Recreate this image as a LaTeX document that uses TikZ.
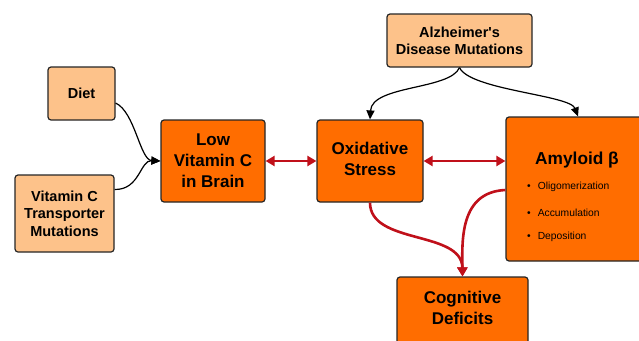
\documentclass[tikz,border=0pt]{standalone}
\usepackage{fontspec}
\setmainfont{Liberation Sans}
\usetikzlibrary{arrows.meta}
\definecolor{lightor}{HTML}{FDC28A}
\definecolor{darkor}{HTML}{FF6D00}
\definecolor{arrred}{HTML}{C0101A}
\begin{document}
\begin{tikzpicture}[x=1pt,y=-1pt,
  box/.style={draw=black!85, line width=1.2pt, rounded corners=3pt, inner sep=0pt, align=center, font=\bfseries},
  light/.style={box, fill=lightor},
  dark/.style={box, fill=darkor},
  blk/.style={-{Triangle[length=9pt,width=8pt]}, line width=1.2pt, black},
  redarr/.style={{Triangle[length=9pt,width=10pt]}-{Triangle[length=9pt,width=10pt]}, line width=2.6pt, arrred},
  redone/.style={-{Triangle[length=9pt,width=10pt]}, line width=2.6pt, arrred},
  bul/.style={font=\fontsize{10.3}{12}\selectfont, anchor=west, inner sep=0pt}]
\clip (0,0) rectangle (639,340);
\fill[white] (0,0) rectangle (639,340);
% boxes
\node[light, minimum width=67pt, minimum height=53pt, font=\bfseries\fontsize{14.5}{17}\selectfont] (diet) at (81.5,93.5) {Diet};
\node[light, minimum width=99pt, minimum height=77pt, font=\bfseries\fontsize{14.5}{17.5}\selectfont] (vct) at (64.5,213.5) {Vitamin C\\Transporter\\Mutations};
\node[dark, minimum width=104pt, minimum height=82pt, font=\bfseries\fontsize{17}{21}\selectfont] (low) at (213,161) {Low\\Vitamin C\\in Brain};
\node[dark, minimum width=106pt, minimum height=82pt] (ox) at (370,161) {};
\node[font=\bfseries\fontsize{17}{21}\selectfont, align=center, inner sep=0pt] (oxt) at (370,158.5) {Oxidative\\Stress};
\node[light, minimum width=145pt, minimum height=53pt, font=\bfseries\fontsize{14.5}{17}\selectfont] (alz) at (459.5,40.5) {Alzheimer\textquotesingle s\\Disease Mutations};
\node[dark, minimum width=144pt, minimum height=144pt] (amy) at (578,189) {};
\node[font=\bfseries\fontsize{17.3}{21}\selectfont, inner sep=0pt] (amyt) at (577,160) {Amyloid β};
\node[bul] (b1) at (527,187) {•\hspace{7pt}Oligomerization};
\node[bul] (b2) at (527,213) {•\hspace{7pt}Accumulation};
\node[bul] (b3) at (527,237) {•\hspace{7pt}Deposition};
\node[dark, minimum width=131pt, minimum height=83pt] (cog) at (462.5,318.5) {};
\node[font=\bfseries\fontsize{17}{21}\selectfont, align=center, inner sep=0pt] (cogt) at (462.5,307.5) {Cognitive\\Deficits};
% black connectors
\draw[blk] (diet.east) ++(0,9.5) coordinate (d1) (d1) .. controls (135,112) and (140,160) .. (low.west);
\draw[blk] (vct.east) ++(0,-24) coordinate (v1) (v1) .. controls (140,190) and (140,160) .. (low.west);
\draw[blk] (alz.south) .. controls (450,90) and (372,85) .. (ox.north);
\draw[blk] (alz.south) .. controls (470,90) and (570,95) .. (amy.north);
% red connectors
\draw[redarr] (low.east) -- (ox.west);
\draw[redarr] (ox.east) -- (amy.west |- ox.east);
\draw[redone] (ox.south) .. controls (370,245) and (462,230) .. (cog.north);
\draw[redone] (amy.west) ++(0,1) coordinate (a1) (a1) .. controls (460,192) and (462,240) .. (cog.north);
\end{tikzpicture}
\end{document}
